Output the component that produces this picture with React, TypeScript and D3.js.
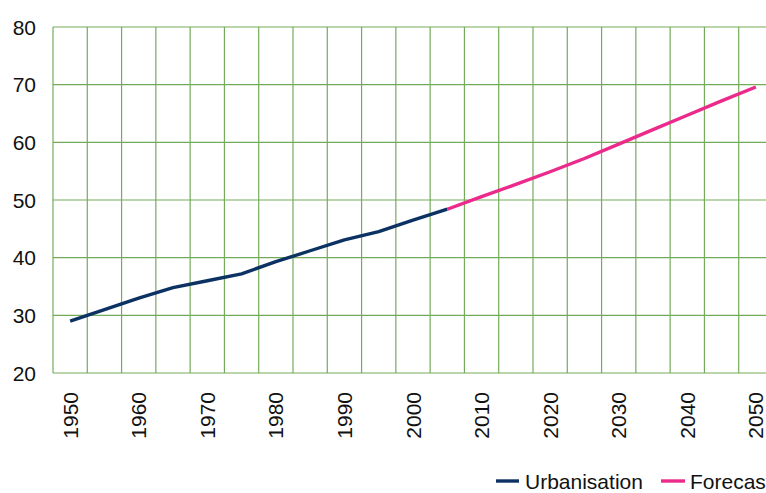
import React from "react";
import * as d3 from "d3";

const years = [1950,1955,1960,1965,1970,1975,1980,1985,1990,1995,2000,2005,2010,2015,2020,2025,2030,2035,2040,2045,2050];
const urbanYears = [1950,1955,1960,1965,1970,1975,1980,1985,1990,1995,2000,2005];
const urbanValues = [29.0,31.0,33.0,34.8,36.0,37.2,39.3,41.2,43.1,44.5,46.5,48.4];
const forecastYears = [2005,2010,2015,2020,2025,2030,2035,2040,2045,2050];
const forecastValues = [48.4,50.6,52.7,54.9,57.2,59.7,62.2,64.7,67.2,69.6];
const yTicks = [20,30,40,50,60,70,80];
const xLabels = [1950,1960,1970,1980,1990,2000,2010,2020,2030,2040,2050];
const seriesNames = ["Urbanisation","Forecast"];

const W = 766, H = 493;
const FONT = "'Liberation Sans', Arial, sans-serif";
const GRID = "#74ab5a";
const BLUE = "#0b3262";
const PINK = "#ec2a8b";

export default function App() {
  const left = 53, right = 773, top = 27, bottom = 373;
  const x = d3.scaleBand<number>().domain(years).range([left, right]).padding(0);
  const y = d3.scaleLinear().domain([20, 80]).range([bottom, top]);
  const cx = (yr: number) => (x(yr) as number) + x.bandwidth() / 2;
  const line = d3.line<[number, number]>().x(d => cx(d[0])).y(d => y(d[1]));
  const urban = urbanYears.map((yr, i) => [yr, urbanValues[i]] as [number, number]);
  const fc = forecastYears.map((yr, i) => [yr, forecastValues[i]] as [number, number]);
  const vLines = years.map(yr => x(yr) as number).concat([right]);

  return (
    <svg width={W} height={H} style={{ position: "absolute", left: 0, top: 0, display: "block" }} fontFamily={FONT}>
      <rect x={0} y={0} width={W} height={H} fill="#ffffff" />
      {yTicks.map(t => (
        <line key={"h" + t} x1={left} x2={right} y1={y(t)} y2={y(t)} stroke={GRID} strokeWidth={1.2} />
      ))}
      {vLines.map((vx, i) => (
        <line key={"v" + i} x1={vx} x2={vx} y1={top} y2={bottom} stroke={GRID} strokeWidth={1.2} />
      ))}
      <path d={line(urban) || ""} fill="none" stroke={BLUE} strokeWidth={3.4} strokeLinejoin="round" />
      <path d={line(fc) || ""} fill="none" stroke={PINK} strokeWidth={3.4} strokeLinejoin="round" />
      {yTicks.map(t => (
        <text key={"yl" + t} x={36} y={y(t)} dy="0.36em" textAnchor="end" fontSize={21} fill="#111">{t}</text>
      ))}
      {xLabels.map(yr => (
        <text key={"xl" + yr} transform={`translate(${cx(yr)},392) rotate(-90)`} dy="0.36em" textAnchor="end" fontSize={21} fill="#111">{yr}</text>
      ))}
      <line x1={496} x2={519} y1={481} y2={481} stroke={BLUE} strokeWidth={3.4} />
      <text x={525} y={488.5} fontSize={21} fill="#111">{seriesNames[0]}</text>
      <line x1={661} x2={685} y1={481} y2={481} stroke={PINK} strokeWidth={3.4} />
      <text x={690} y={488.5} fontSize={21} fill="#111">{seriesNames[1]}</text>
    </svg>
  );
}
